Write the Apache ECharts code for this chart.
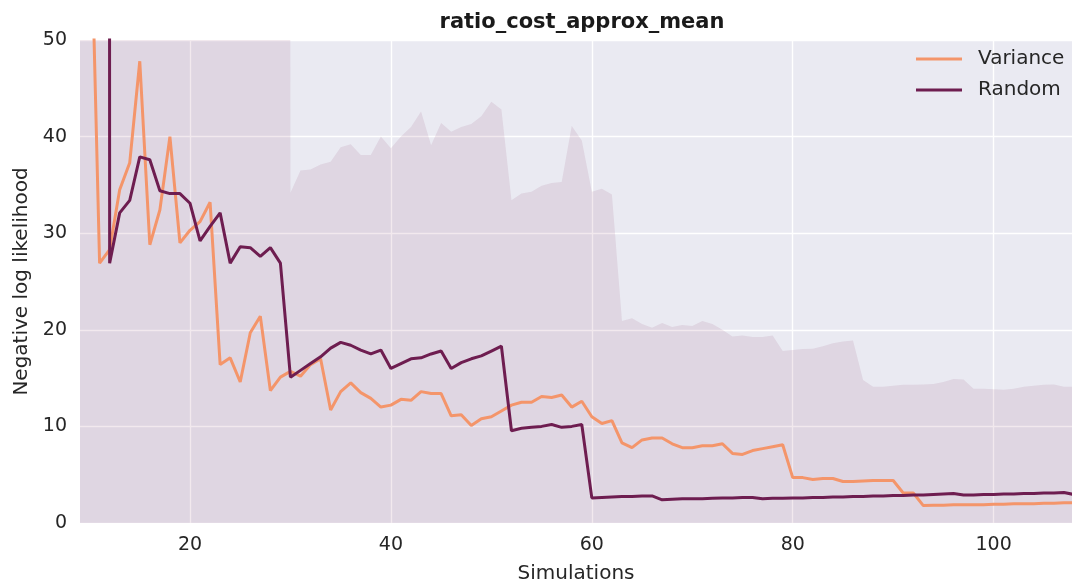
<!DOCTYPE html>
<html>
<head>
<meta charset="utf-8">
<script src="https://cdn.jsdelivr.net/npm/echarts@6/dist/echarts.min.js"></script>
<style>
html,body{margin:0;padding:0;background:#fff;}
#chart{width:1072px;height:584px;}
</style>
</head>
<body>
<div id="chart"></div>
<script>
// Simulations (x)
const simulations = [9,10,11,12,13,14,15,16,17,18,19,20,21,22,23,24,25,26,27,28,29,30,31,32,33,34,35,36,37,38,39,40,41,42,43,44,45,46,47,48,49,50,51,52,53,54,55,56,57,58,59,60,61,62,63,64,65,66,67,68,69,70,71,72,73,74,75,76,77,78,79,80,81,82,83,84,85,86,87,88,89,90,91,92,93,94,95,96,97,98,99,100,101,102,103,104,105,106,107,108];

// Variance mean line
const varianceMean = [null,69,26.9,28.3,34.5,37.3,47.8,28.8,32.4,40.0,29.0,30.3,31.2,33.2,16.4,17.1,14.6,19.7,21.4,13.7,15.1,15.7,15.2,16.4,17.0,11.7,13.6,14.5,13.5,12.9,12.0,12.2,12.8,12.7,13.6,13.4,13.4,11.1,11.2,10.1,10.8,11.0,11.6,12.2,12.5,12.5,13.1,13.0,13.25,12.0,12.6,11.0,10.3,10.6,8.3,7.8,8.6,8.8,8.8,8.2,7.8,7.8,8.0,8.0,8.2,7.2,7.1,7.5,7.7,7.9,8.1,4.7,4.7,4.5,4.6,4.6,4.3,4.3,4.35,4.4,4.4,4.4,3.1,3.1,1.8,1.85,1.85,1.9,1.9,1.9,1.9,1.95,1.95,2.0,2.0,2.0,2.05,2.05,2.1,2.1];

// Random mean line
const randomMean = [null,null,3000,26.9,32.1,33.4,37.9,37.6,34.4,34.1,34.1,33.1,29.2,30.7,32.1,26.9,28.6,28.5,27.6,28.5,26.9,15.1,15.8,16.5,17.2,18.1,18.7,18.4,17.9,17.5,17.9,16.0,16.5,17.0,17.1,17.5,17.8,16.0,16.6,17.0,17.3,17.8,18.3,9.55,9.8,9.9,10.0,10.2,9.9,10.0,10.2,2.6,2.65,2.7,2.75,2.75,2.8,2.8,2.4,2.45,2.5,2.5,2.5,2.55,2.6,2.6,2.65,2.65,2.5,2.55,2.55,2.6,2.6,2.65,2.65,2.7,2.7,2.75,2.75,2.8,2.8,2.85,2.85,2.9,2.9,2.95,3.0,3.05,2.9,2.9,2.95,2.95,3.0,3.0,3.05,3.05,3.1,3.1,3.15,2.95];

// Upper edge of the confidence band
const bandUpper = [1000,1000,1000,1000,1000,1000,1000,1000,1000,1000,1000,1000,1000,1000,1000,1000,1000,1000,1000,1000,1000,34.2,36.5,36.6,37.1,37.4,38.9,39.2,38.1,38.1,40.0,38.8,40.0,41.0,42.6,39.1,41.4,40.5,41.0,41.3,42.1,43.6,42.8,33.4,34.1,34.3,34.9,35.2,35.3,41.1,39.6,34.3,34.6,34.0,20.9,21.2,20.6,20.2,20.7,20.3,20.5,20.4,20.9,20.6,20.0,19.3,19.4,19.25,19.25,19.4,17.8,17.9,18.0,18.05,18.3,18.6,18.8,18.9,14.8,14.1,14.1,14.2,14.3,14.3,14.35,14.4,14.6,14.9,14.85,13.9,13.9,13.85,13.8,13.9,14.1,14.2,14.3,14.35,14.1,14.1];

const xTicks = [20,40,60,80,100];
const yTicks = [0,10,20,30,40,50];

const pairs = arr => simulations.map((x,i) => [x, arr[i]]);

const FONT = 'DejaVu Sans';
const TXT = '#262626';

const chart = echarts.init(document.getElementById('chart'), null, {renderer:'canvas'});
chart.setOption({
  backgroundColor: '#ffffff',
  animation: false,
  title: {
    text: 'ratio_cost_approx_mean',
    left: 577, top: 7, textAlign: 'center',
    textStyle: {fontFamily: FONT, fontWeight: 'bold', fontSize: 21, color: '#1a1a1a'}
  },
  legend: {
    data: ['Variance','Random'],
    orient: 'vertical',
    left: 911, top: 44,
    icon: 'rect', itemWidth: 46, itemHeight: 3, itemGap: 11,
    textStyle: {fontFamily: FONT, fontSize: 20, color: TXT, padding: [0,0,0,11]}
  },
  grid: {left: 80, right: 0, top: 40, bottom: 61, show: true, backgroundColor: '#EAEAF2', borderWidth: 0, outerBoundsMode: 'none', containLabel: false},
  xAxis: {
    type: 'value', min: 9.05, max: 107.8,
    name: 'Simulations', nameLocation: 'middle', nameGap: 41,
    nameTextStyle: {fontFamily: FONT, fontSize: 20, color: TXT},
    axisLine: {show: false}, axisTick: {show: false, customValues: xTicks},
    axisLabel: {customValues: xTicks, fontFamily: FONT, fontSize: 19, color: TXT, margin: 13},
    splitLine: {show: true, lineStyle: {color: '#ffffff', width: 1.4}}
  },
  yAxis: {
    type: 'value', min: 0, max: 50, interval: 10,
    name: 'Negative log likelihood', nameLocation: 'middle', nameGap: 47, nameRotate: 90,
    nameTextStyle: {fontFamily: FONT, fontSize: 20, color: TXT},
    axisLine: {show: false}, axisTick: {show: false},
    axisLabel: {fontFamily: FONT, fontSize: 19, color: TXT, margin: 13},
    splitLine: {show: true, lineStyle: {color: '#ffffff', width: 1.4}}
  },
  series: [
    {
      name: 'band', type: 'line', data: pairs(bandUpper), symbol: 'none', silent: true,
      lineStyle: {width: 0},
      areaStyle: {color: 'rgba(125,30,85,0.14)', origin: 'start'},
      z: 1
    },
    {
      name: 'Variance', type: 'line', data: pairs(varianceMean), symbol: 'none',
      lineStyle: {color: '#F4956A', width: 3}, itemStyle: {color: '#F4956A'},
      connectNulls: false, z: 2
    },
    {
      name: 'Random', type: 'line', data: pairs(randomMean), symbol: 'none',
      lineStyle: {color: '#6E1D50', width: 3}, itemStyle: {color: '#6E1D50'},
      connectNulls: false, z: 3
    }
  ]
});
</script>
</body>
</html>
